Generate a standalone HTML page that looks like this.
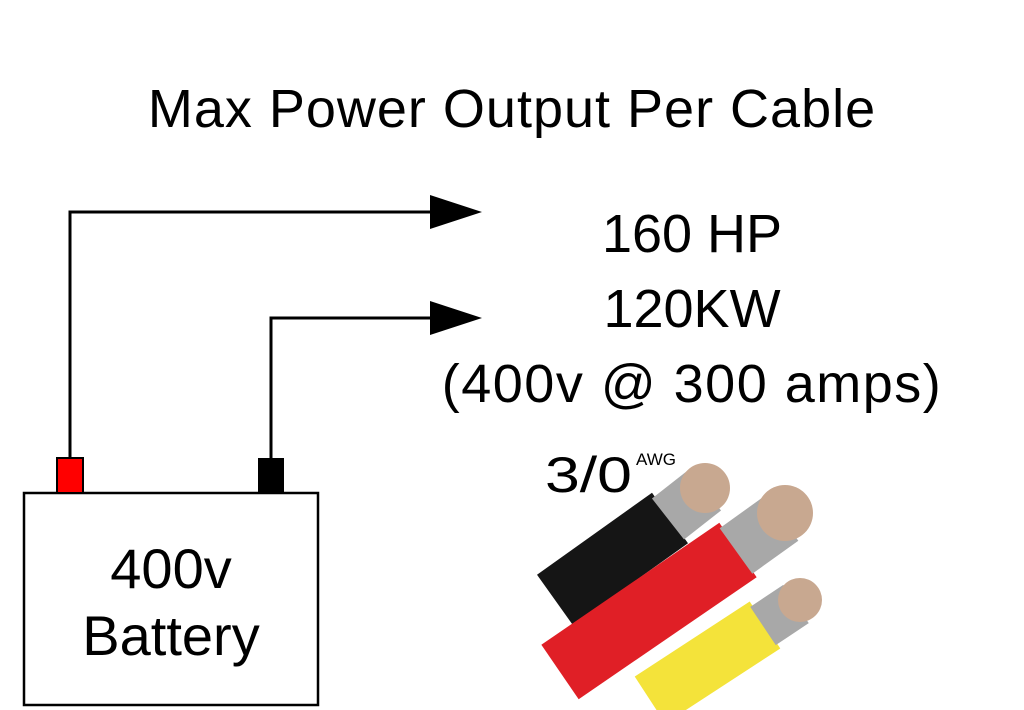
<!DOCTYPE html>
<html><head><style>
body{margin:0;width:1024px;height:710px;background:#fff;overflow:hidden;position:relative;font-family:"Liberation Sans",sans-serif}
.t{position:absolute;white-space:nowrap;color:#000;transform:translateX(-50%)}
</style></head><body>
<svg width="1024" height="710" style="position:absolute;left:0;top:0">
<g stroke="#000" stroke-width="3" fill="none">
<polyline points="70,458 70,212 435,212"/>
<polyline points="271,458 271,318 435,318"/>
<rect x="24" y="493" width="294" height="212" stroke-width="2.5"/>
</g>
<polygon points="430,195 482,212 430,229" fill="#000"/>
<polygon points="430,301 482,318 430,335" fill="#000"/>
<rect x="57" y="458" width="26" height="35" fill="#f00" stroke="#000" stroke-width="2"/>
<rect x="258" y="458" width="26" height="35" fill="#000"/>
<g stroke-linecap="butt">
<line x1="555" y1="600" x2="670" y2="518" stroke="#151515" stroke-width="62"/>
<line x1="668" y1="519" x2="705" y2="490" stroke="#a8a8a8" stroke-width="52"/>
<circle cx="705" cy="488" r="25" fill="#c8a890"/>
<line x1="560" y1="672" x2="738" y2="550" stroke="#e01f26" stroke-width="66"/>
<line x1="736" y1="551" x2="782" y2="518" stroke="#a8a8a8" stroke-width="56"/>
<circle cx="785" cy="513" r="28" fill="#c8a890"/>
<line x1="650" y1="700" x2="765" y2="625" stroke="#f4e33a" stroke-width="56"/>
<line x1="763" y1="626" x2="796" y2="604" stroke="#a8a8a8" stroke-width="46"/>
<circle cx="800" cy="600" r="22" fill="#c8a890"/>
</g>
<text x="545" y="492" font-family="Liberation Sans" font-size="50" textLength="87" lengthAdjust="spacingAndGlyphs" fill="#000">3/0</text>
<text x="636" y="465" font-family="Liberation Sans" font-size="17" fill="#000">AWG</text>
</svg>
<div class="t" style="left:512px;top:78px;font-size:54px;letter-spacing:1px">Max Power Output Per Cable</div>
<div class="t" style="left:692px;top:203px;font-size:54px">160 HP</div>
<div class="t" style="left:692px;top:278px;font-size:54px">120KW</div>
<div class="t" style="left:692px;top:353px;font-size:54px;letter-spacing:1.5px">(400v @ 300 amps)</div>
<div class="t" style="left:171px;top:535px;font-size:56px;text-align:center;line-height:67px">400v<br>Battery</div>
</body></html>
